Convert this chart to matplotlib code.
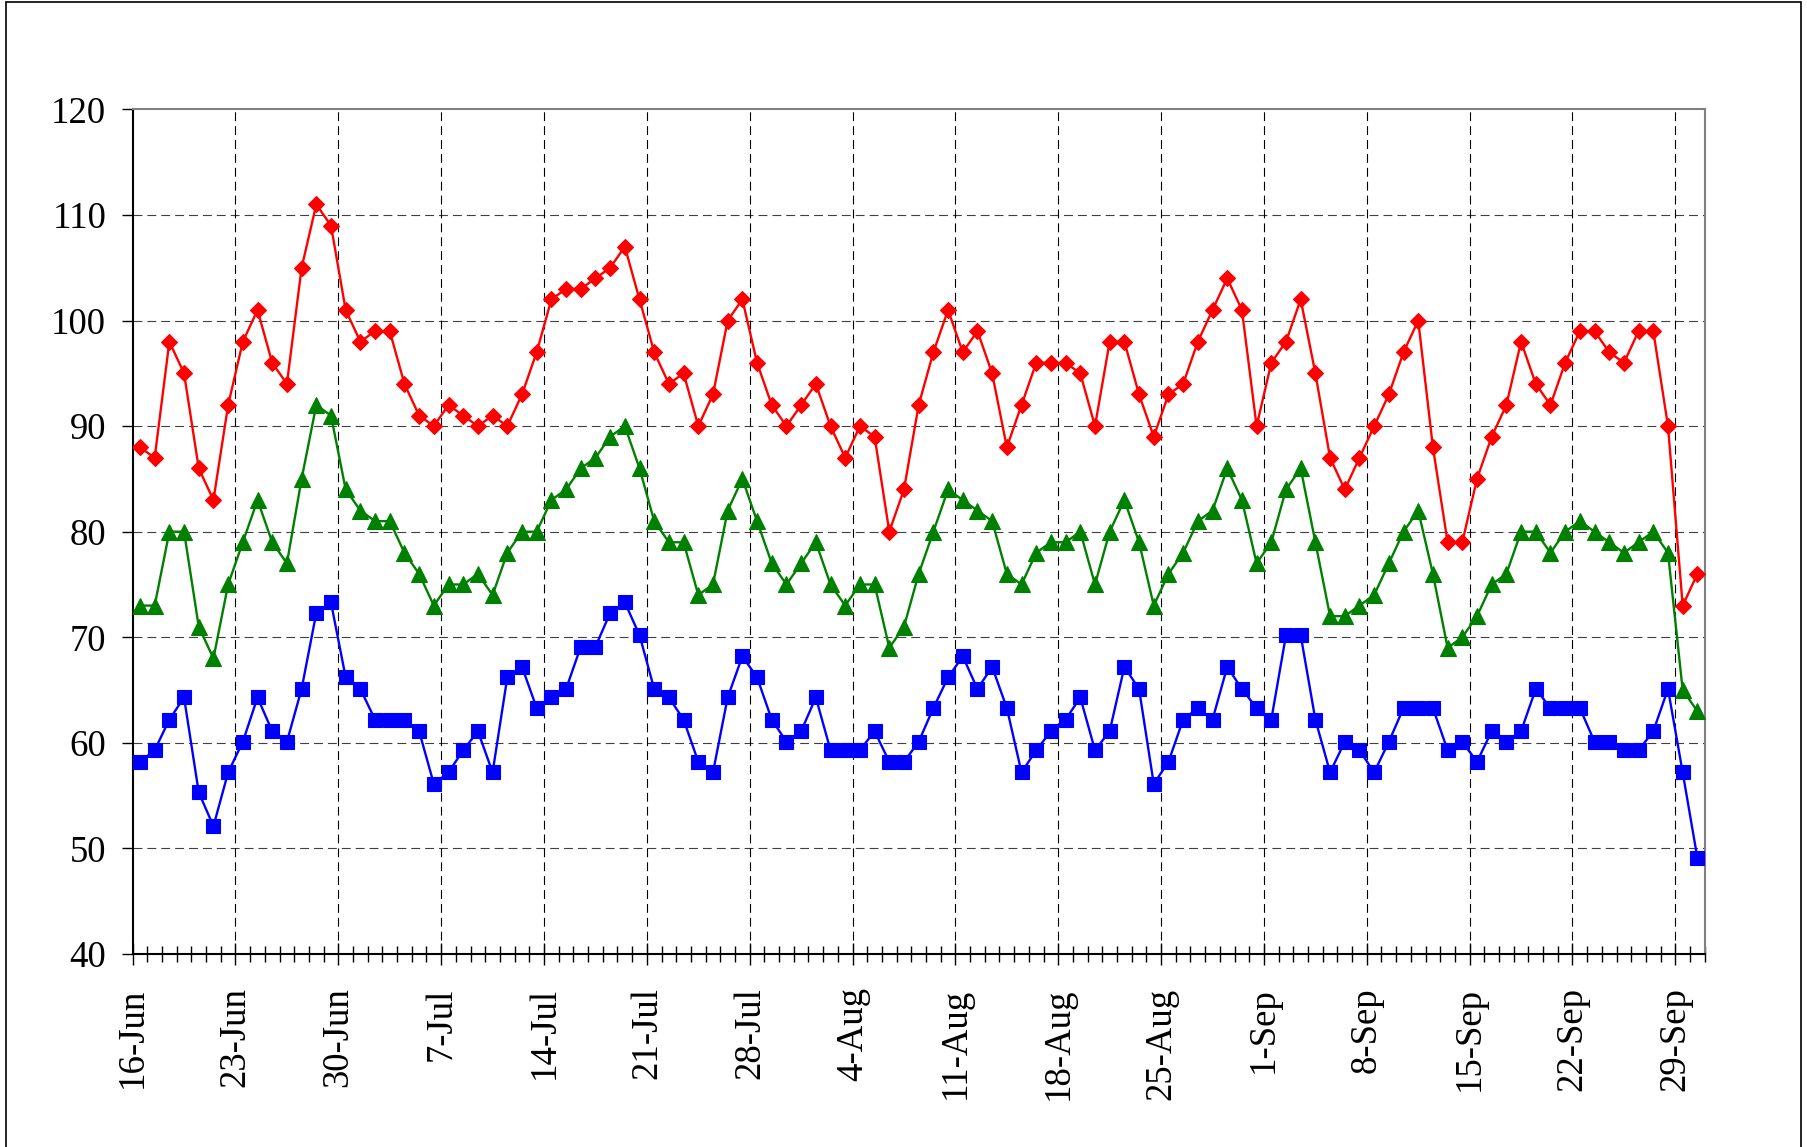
import numpy as np
import matplotlib
matplotlib.use("Agg")
import matplotlib.pyplot as plt
import matplotlib.transforms as mtransforms
from matplotlib.patches import Rectangle
from matplotlib.ticker import FixedLocator, MultipleLocator

# daily values, 16-Jun .. 30-Sep
red = [88, 87, 98, 95, 86, 83, 92, 98, 101, 96, 94, 105, 111, 109, 101, 98, 99, 99, 94,
       91, 90, 92, 91, 90, 91, 90, 93, 97, 102, 103, 103, 104, 105, 107, 102, 97, 94,
       95, 90, 93, 100, 102, 96, 92, 90, 92, 94, 90, 87, 90, 89, 80, 84, 92, 97, 101,
       97, 99, 95, 88, 92, 96, 96, 96, 95, 90, 98, 98, 93, 89, 93, 94, 98, 101,
       104, 101, 90, 96, 98, 102, 95, 87, 84, 87, 90, 93, 97, 100, 88, 79, 79, 85,
       89, 92, 98, 94, 92, 96, 99, 99, 97, 96, 99, 99, 90, 73, 76]
green = [73, 73, 80, 80, 71, 68, 75, 79, 83, 79, 77, 85, 92, 91, 84, 82, 81, 81, 78,
         76, 73, 75, 75, 76, 74, 78, 80, 80, 83, 84, 86, 87, 89, 90, 86, 81, 79,
         79, 74, 75, 82, 85, 81, 77, 75, 77, 79, 75, 73, 75, 75, 69, 71, 76, 80, 84,
         83, 82, 81, 76, 75, 78, 79, 79, 80, 75, 80, 83, 79, 73, 76, 78, 81, 82,
         86, 83, 77, 79, 84, 86, 79, 72, 72, 73, 74, 77, 80, 82, 76, 69, 70, 72,
         75, 76, 80, 80, 78, 80, 81, 80, 79, 78, 79, 80, 78, 65, 63]
blue = [58.2, 59.3, 62.2, 64.3, 55.3, 52.1, 57.2, 60.1, 64.3, 61.1, 60.1, 65.1, 72.3, 73.3, 66.2, 65.1, 62.2, 62.2, 62.2,
        61.1, 56.1, 57.2, 59.3, 61.1, 57.2, 66.2, 67.2, 63.3, 64.3, 65.1, 69.1, 69.1, 72.3, 73.3, 70.2, 65.1, 64.3,
        62.2, 58.2, 57.2, 64.3, 68.2, 66.2, 62.2, 60.1, 61.1, 64.3, 59.3, 59.3, 59.3, 61.1, 58.2, 58.2, 60.1, 63.3, 66.2,
        68.2, 65.1, 67.2, 63.3, 57.2, 59.3, 61.1, 62.2, 64.3, 59.3, 61.1, 67.2, 65.1, 56.1, 58.2, 62.2, 63.3, 62.2,
        67.2, 65.1, 63.3, 62.2, 70.2, 70.2, 62.2, 57.2, 60.1, 59.3, 57.2, 60.1, 63.3, 63.3, 63.3, 59.3, 60.1, 58.2,
        61.1, 60.1, 61.1, 65.1, 63.3, 63.3, 63.3, 60.1, 60.1, 59.3, 59.3, 61.1, 65.1, 57.2, 49.1]

week_labels = ['16-Jun', '23-Jun', '30-Jun', '7-Jul', '14-Jul', '21-Jul', '28-Jul', '4-Aug',
               '11-Aug', '18-Aug', '25-Aug', '1-Sep', '8-Sep', '15-Sep', '22-Sep', '29-Sep']
y_ticks = [40, 50, 60, 70, 80, 90, 100, 110, 120]

plt.rcParams['font.family'] = ['Liberation Serif', 'DejaVu Serif']

fig = plt.figure(figsize=(18.07, 11.47), dpi=100)
ax = fig.add_axes([0.0734, 0.1683, 0.870, 0.7363])

n = len(red)
days = np.arange(n) + 0.5   # points sit in the middle of each day slot

ax.plot(days, blue, '-s', color='#0000FF', lw=1.7, ms=10.5, mew=0.8, zorder=3)
ax.plot(days, green, '-^', color='#008000', lw=1.7, ms=11.5, mew=0.8, zorder=3)
ax.plot(days, red, '-D', color='#FF0000', lw=1.7, ms=8.3, mew=0.8, zorder=3)

ax.set_xlim(0, n)
ax.set_ylim(40, 120)
ax.yaxis.set_major_locator(FixedLocator(y_ticks))
ax.set_yticklabels([str(v) for v in y_ticks])

major = [7 * i for i in range(len(week_labels))]
ax.xaxis.set_major_locator(FixedLocator(major))
ax.xaxis.set_minor_locator(MultipleLocator(1))
ax.set_xticklabels(week_labels, rotation=90, va='top', ha='center')

# labels drawn a bit to the right of the week tick, like the source
off = mtransforms.ScaledTranslation(6 / 100, 0, fig.dpi_scale_trans)
for lab in ax.get_xticklabels():
    lab.set_transform(lab.get_transform() + off)

ax.tick_params(axis='y', which='major', direction='out', length=8, width=1,
               labelsize=26.5, pad=11)
ax.tick_params(axis='x', which='major', direction='inout', length=16, width=1,
               labelsize=26.5, pad=16)
ax.tick_params(axis='x', which='minor', direction='inout', length=12, width=1)

dash = (0, (8, 4.5))
for v in y_ticks[1:-1]:
    ax.axhline(v, color='#404040', lw=0.8, ls=dash, zorder=1)
for m in major[1:]:
    ax.axvline(m, color='black', lw=0.8, ls=dash, zorder=1)

for s in ['left', 'bottom']:
    ax.spines[s].set_color('black')
    ax.spines[s].set_linewidth(1.5)
for s in ['top', 'right']:
    ax.spines[s].set_color('#808080')
    ax.spines[s].set_linewidth(1.5)

# chart-area border
fig.patches.append(Rectangle((5 / 1568, -0.02), 1558 / 1568, 1.02 - 1.5 / 995,
                             transform=fig.transFigure, fill=False,
                             edgecolor='black', lw=1.2))

fig.savefig('out.png', dpi=100)
